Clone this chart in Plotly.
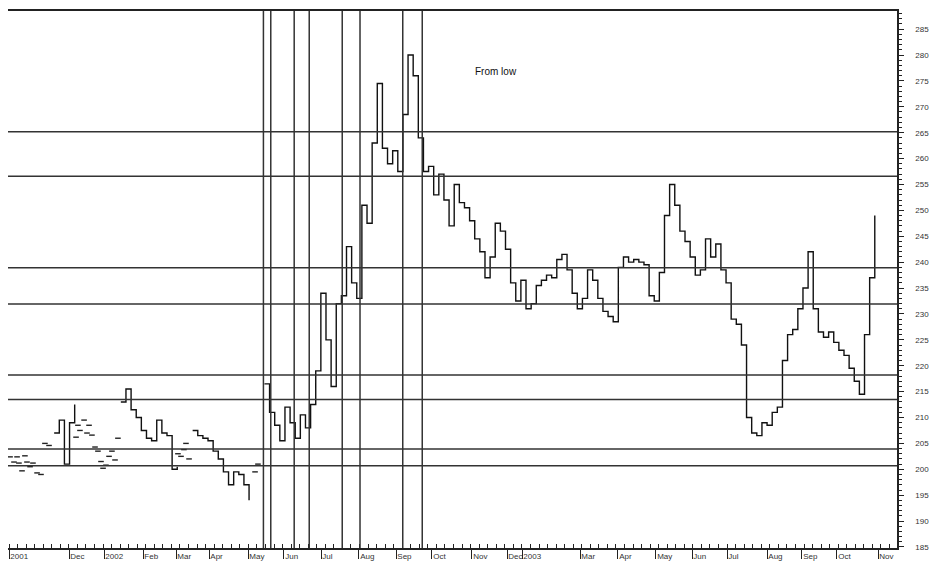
import plotly.graph_objects as go

# ---------------- data ----------------
# trading-day index of every 3rd session, and the price at that session (None = gap)
step = 3
price = [
    None, None, None, None, None, None, None, None, None, 207,
    209.5, 201, 209, 212.5, None, None, None, None, None, None,
    None, None, 213, 215.5, 211.5, 210, 207.5, 206, 205.5, 209.5,
    207, 206.5, 200, 200.5, None, None, 207.5, 206.5, 206, 205.5,
    203.5, 202, 199.5, 197, 199.5, 199, 197, 194, None, None,
    216.5, 211, 208.5, 205.5, 212, 209, 206, 210.5, 208, 212.5,
    219, 234, 225, 216, 232, 233.5, 243, 236, 233, 251,
    247.5, 263, 274.5, 262, 259, 261.5, 257.5, 268.5, 280, 276,
    264, 257.5, 258.5, 253, 257, 252, 247, 255, 251.5, 250.5,
    248, 244.5, 242, 237, 241, 247.5, 246, 242.5, 236, 232.5,
    236.5, 231, 232, 235.5, 236.5, 237.5, 237, 240.5, 241.5, 238.5,
    234, 231, 233, 238.5, 236.5, 233, 230.5, 229.5, 228.5, 239,
    241, 240, 240.5, 240, 239.5, 233.5, 232.5, 238, 249, 255,
    251, 246, 244, 241, 237.5, 238.5, 244.5, 241, 243.5, 238.5,
    236, 229, 228, 224, 210, 207, 206.5, 209, 208.5, 211,
    212, 221, 226, 227, 231, 235, 242, 231, 226.5, 225.5,
    226.5, 224.5, 223, 222, 219.5, 217, 214.5, 226, 237, 249,
]
day = [i * step for i in range(len(price))]

# isolated small bars (sessions with almost no range) in the thin-trading periods
dash_day = [1.2, 3.5, 5.3, 6.4, 8.2, 9.9, 11.1, 12.9, 14.6, 17.0, 19.3, 21.6, 24.0,
            39.8, 40.9, 42.1, 44.5, 46.2, 47.4, 49.1, 50.9, 52.6, 54.4, 55.6, 57.3,
            59.1, 60.8, 62.6, 64.3, 99.4, 101.2, 102.9, 104.1, 105.9, 144.5, 146.2]
dash_price = [202.4, 201.4, 202.4, 201.2, 199.7, 202.6, 201.4, 200.5, 201.2, 199.3, 199.0, 205, 204.6,
              206.2, 208.5, 207.5, 209.5, 207, 208.5, 206.6, 204.3, 203.5, 201.5, 200.2, 200.8,
              202.5, 203.5, 201.8, 206, 203, 202.5, 203.8, 205, 202, 199.5, 201]

# horizontal levels ("from low") and vertical time markers
levels = [265.2, 256.6, 238.9, 231.9, 218.2, 213.5, 203.9, 200.7]
marker_days = [149.4, 153.7, 167.4, 176.2, 195.5, 205.9, 230.9, 242.3]

# month tick labels (trading-day index positions)
tick_days = [0.6, 35.7, 56.2, 79.0, 98.3, 117.6, 140.4, 161.4, 183.1, 205.3, 227.0, 248.0,
             271.4, 291.9, 300.7, 334.6, 356.8, 379.0, 400.1, 420.6, 444.0, 464.4, 484.9, 508.9]
tick_text = ["2001", "Dec", "2002", "Feb", "Mar", "Apr", "May", "Jun", "Jul", "Aug", "Sep", "Oct",
             "Nov", "Dec", "2003", "Mar", "Apr", "May", "Jun", "Jul", "Aug", "Sep", "Oct", "Nov"]

y_range = [184.8, 288.5]
x_range = [0, 520]

# ---------------- figure ----------------
FONT = "Arial, Liberation Sans, sans-serif"
fig = go.Figure()

fig.add_trace(go.Scatter(
    x=day, y=price, mode="lines", line=dict(color="#111", width=1.4, shape="hv"),
    connectgaps=False, hoverinfo="skip", showlegend=False))

fig.add_trace(go.Scatter(
    x=dash_day, y=dash_price, mode="markers",
    marker=dict(symbol="line-ew", size=4, line=dict(color="#222", width=1.4)),
    hoverinfo="skip", showlegend=False))

for lv in levels:
    fig.add_hline(y=lv, line=dict(color="#333", width=1.5))
for d in marker_days:
    fig.add_vline(x=d, line=dict(color="#333", width=1.5))

fig.add_annotation(x=272, y=276.9, text="From low", showarrow=False,
                   xanchor="left", yanchor="middle",
                   font=dict(family=FONT, size=10, color="#111"))

fig.update_layout(
    width=935, height=562,
    margin=dict(l=8, r=38, t=11, b=14),
    paper_bgcolor="white", plot_bgcolor="white",
    font=dict(family=FONT, size=8, color="#333"),
    xaxis=dict(
        range=x_range, showgrid=False, zeroline=False, automargin=False,
        showline=True, linecolor="#222", linewidth=1.5, mirror=True,
        tickmode="array", tickvals=tick_days, ticktext=tick_text,
        ticks="outside", ticklen=9, tickcolor="#222", tickwidth=1,
        ticklabelposition="outside right", tickangle=0,
        tickfont=dict(family=FONT, size=8, color="#333"),
        minor=dict(ticks="inside", ticklen=4, tickmode="linear", tick0=0.6, dtick=5,
                   tickcolor="#222", tickwidth=1),
    ),
    yaxis=dict(
        range=y_range, side="right", showgrid=False, zeroline=False, automargin=False,
        showline=True, linecolor="#222", linewidth=1.5,
        tickmode="linear", tick0=185, dtick=5,
        ticks="outside", ticklen=5, tickcolor="#222", tickwidth=1,
        ticklabelstandoff=10,
        tickfont=dict(family=FONT, size=8, color="#333"),
        minor=dict(ticks="outside", ticklen=3, tickmode="linear", tick0=185, dtick=1,
                   tickcolor="#222", tickwidth=1),
    ),
)

fig.write_html("out.html", config={"displayModeBar": False},
               post_script="document.body.style.margin='0';document.body.style.padding='0';")
